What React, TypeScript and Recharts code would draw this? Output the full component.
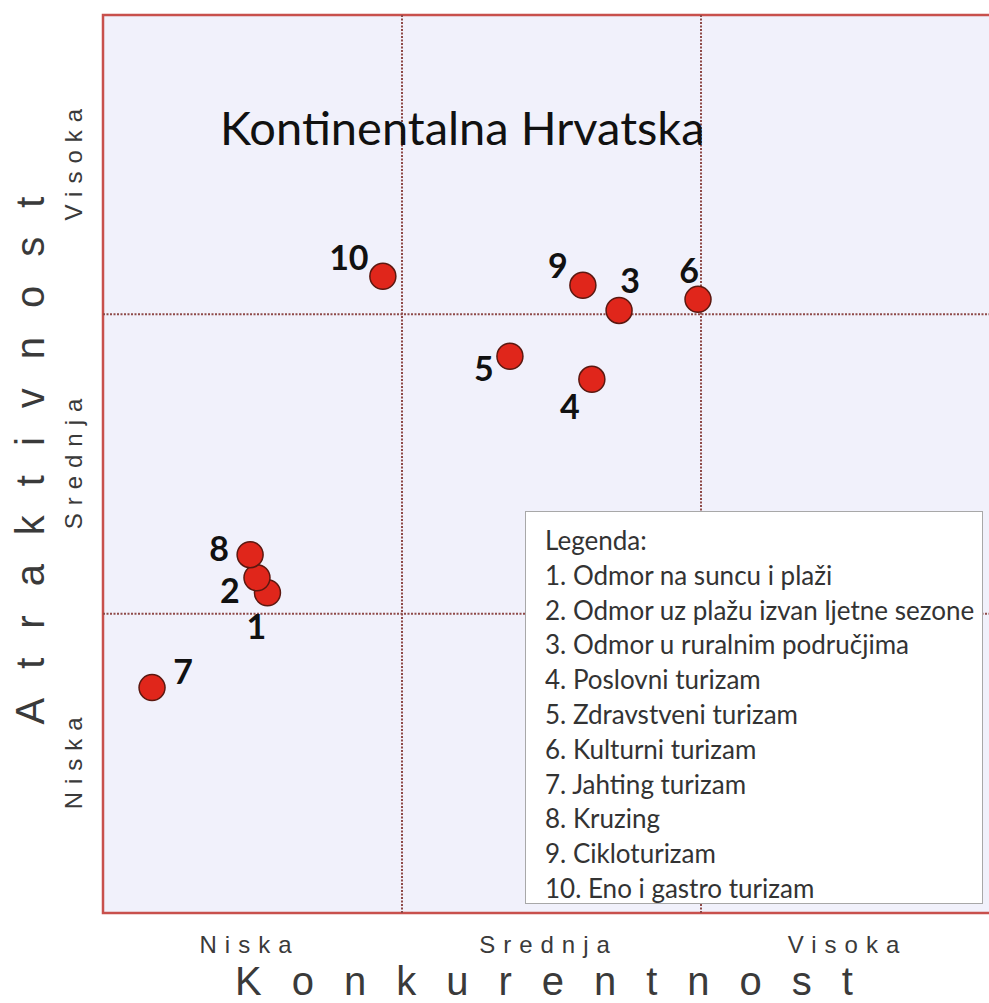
import React from 'react';
import {
  ScatterChart, Scatter, XAxis, YAxis, ReferenceArea, ReferenceLine, Label,
} from 'recharts';

// categories shown on both axes (low / medium / high)
const levels = ['Niska', 'Srednja', 'Visoka'];
const levelTicks = [0.5, 1.5, 2.5];

// tourism products, numbered as in the legend
const productIds = [1, 2, 3, 4, 5, 6, 7, 8, 9, 10];
const productNames = [
  'Odmor na suncu i plaži',
  'Odmor uz plažu izvan ljetne sezone',
  'Odmor u ruralnim područjima',
  'Poslovni turizam',
  'Zdravstveni turizam',
  'Kulturni turizam',
  'Jahting turizam',
  'Kruzing',
  'Cikloturizam',
  'Eno i gastro turizam',
];
const konkurentnost = [0.55, 0.515, 1.726, 1.635, 1.361, 1.99, 0.164, 0.492, 1.605, 0.936];
const atraktivnost = [1.07, 1.12, 2.013, 1.783, 1.86, 2.05, 0.753, 1.197, 2.097, 2.127];

// where each number sits relative to its dot
const labelOffset: Record<number, [number, number]> = {
  1: [-11, 33], 2: [-27, 12], 3: [11, -31], 4: [-22, 26], 5: [-26, 11],
  6: [-9, -30], 7: [31, -17], 8: [-31, -7], 9: [-25, -21], 10: [-34, -20],
};

const points = productIds.map((id, i) => ({
  id, x: konkurentnost[i], y: atraktivnost[i],
}));

const border = '#c8504c';
const gridColor = '#8e4a48';
const axisText = '#3a3a3a';

function Dot(props: any) {
  const { cx, cy, payload } = props;
  const [dx, dy] = labelOffset[payload.id] ?? [0, -28];
  return (
    <g>
      <circle cx={cx} cy={cy} r={13} fill="#e0261b" stroke="#5b1810" strokeWidth={1.5} />
      <text
        x={cx + dx}
        y={cy + dy}
        textAnchor="middle"
        dominantBaseline="central"
        fontFamily="Lato"
        fontWeight={700}
        fontSize={34}
        fill="#111"
      >
        {payload.id}
      </text>
    </g>
  );
}

function XTick({ x, payload }: any) {
  return (
    <text x={x - 3} y={953} textAnchor="middle" fontFamily="Liberation Sans" fontSize={24}
      letterSpacing={8} fill={axisText}>
      {levels[levelTicks.indexOf(payload.value)]}
    </text>
  );
}

function YTick({ y, payload }: any) {
  return (
    <text x={0} y={0} transform={`translate(82, ${y - 4}) rotate(-90)`} textAnchor="middle"
      fontFamily="Liberation Sans" fontSize={24} letterSpacing={8} fill={axisText}>
      {levels[levelTicks.indexOf(payload.value)]}
    </text>
  );
}

export default function App() {
  return (
    <div style={{ position: 'fixed', left: 0, top: 0, width: 989, height: 1003, overflow: 'hidden', background: '#fff' }}>
      <ScatterChart width={1010} height={1003} margin={{ top: 15, right: 10, bottom: 0, left: 0 }}>
        <XAxis type="number" dataKey="x" domain={[0, 3]} ticks={levelTicks} axisLine={false}
          tickLine={false} tick={<XTick />} height={90} interval={0}>
          <Label
            content={() => (
              <text x={559} y={995} textAnchor="middle" fontFamily="Liberation Sans" fontSize={40}
                letterSpacing={30} fill={axisText}>
                Konkurentnost
              </text>
            )}
          />
        </XAxis>
        <YAxis type="number" dataKey="y" domain={[0, 3]} ticks={levelTicks} axisLine={false}
          tickLine={false} tick={<YTick />} width={103} interval={0}>
          <Label
            content={() => (
              <text x={0} y={0} transform="translate(44, 446) rotate(-90)" textAnchor="middle"
                fontFamily="Liberation Sans" fontSize={40} letterSpacing={29} fill={axisText}>
                Atraktivnost
              </text>
            )}
          />
        </YAxis>
        <ReferenceArea x1={0} x2={3} y1={0} y2={3} fill="#f1f1fb" fillOpacity={1}
          stroke={border} strokeWidth={2.5} ifOverflow="visible" />
        <ReferenceLine x={1} stroke={gridColor} strokeWidth={2} strokeDasharray="2 1.5" />
        <ReferenceLine x={2} stroke={gridColor} strokeWidth={2} strokeDasharray="2 1.5" />
        <ReferenceLine y={1} stroke={gridColor} strokeWidth={2} strokeDasharray="2 1.5" />
        <ReferenceLine y={2} stroke={gridColor} strokeWidth={2} strokeDasharray="2 1.5" />
        <Scatter data={points} shape={<Dot />} isAnimationActive={false} />
      </ScatterChart>

      <div style={{
        position: 'absolute', left: 220, top: 98, fontFamily: 'Lato', fontSize: 47,
        color: '#111', whiteSpace: 'nowrap', lineHeight: '58px',
      }}>
        Kontinentalna Hrvatska
      </div>

      <div style={{
        position: 'absolute', left: 525, top: 511, width: 458, height: 393,
        background: '#fff', border: '1px solid #a8a8a8', fontFamily: 'Lato', fontSize: 26,
        color: '#333', padding: '11px 0 0 19px', boxSizing: 'border-box', lineHeight: '34.8px',
        whiteSpace: 'nowrap',
      }}>
        <div>Legenda:</div>
        {productIds.map((id, i) => (
          <div key={id}>{id}. {productNames[i]}</div>
        ))}
      </div>
    </div>
  );
}
